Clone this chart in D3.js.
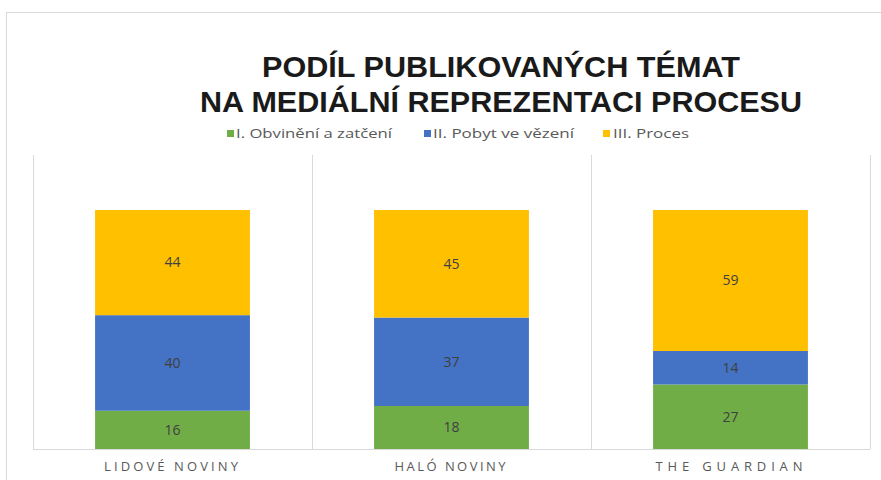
<!DOCTYPE html>
<html>
<head>
<meta charset="utf-8">
<script src="https://cdn.jsdelivr.net/npm/d3@7/dist/d3.min.js"></script>
<style>
html,body{margin:0;padding:0;background:#fff;}
svg{display:block;}
</style>
</head>
<body>
<svg id="chart" width="881" height="480"></svg>
<script>
const categories = ["LIDOVÉ NOVINY", "HALÓ NOVINY", "THE GUARDIAN"];
const seriesNames = ["I. Obvinění a zatčení", "II. Pobyt ve vězení", "III. Proces"];
const seriesColors = ["#70AD47", "#4472C4", "#FFC000"];
const obvineni = [16, 18, 27];
const pobyt = [40, 37, 14];
const proces = [44, 45, 59];
const titleLines = ["PODÍL PUBLIKOVANÝCH TÉMAT", "NA MEDIÁLNÍ REPREZENTACI PROCESU"];

const seriesValues = [obvineni, pobyt, proces];
const rows = categories.map((c, i) => {
  const r = {cat: c};
  seriesNames.forEach((s, j) => r[s] = seriesValues[j][i]);
  return r;
});

const svg = d3.select("#chart");
const font = "'Open Sans', sans-serif";

// outer chart border (partially visible)
svg.append("line").attr("x1", 6).attr("x2", 881).attr("y1", 12.5).attr("y2", 12.5)
  .attr("stroke", "#d9d9d9").attr("stroke-width", 1);
svg.append("line").attr("x1", 6.5).attr("x2", 6.5).attr("y1", 12).attr("y2", 480)
  .attr("stroke", "#d9d9d9").attr("stroke-width", 1);

const x = d3.scaleBand().domain(categories).range([33, 870]).paddingInner(0).paddingOuter(0);
const y = d3.scaleLinear().domain([0, 100]).range([449, 210]);
const barW = x.bandwidth() * 0.555;

// category separators
const edges = categories.map(c => x(c)).concat([x(categories[categories.length - 1]) + x.bandwidth()]);
svg.append("g").selectAll("line").data(edges).join("line")
  .attr("x1", d => Math.round(d) + 0.5).attr("x2", d => Math.round(d) + 0.5)
  .attr("y1", 155).attr("y2", 449)
  .attr("stroke", "#d9d9d9").attr("stroke-width", 1);

const stack = d3.stack().keys(seriesNames);
const stacked = stack(rows);

const g = svg.append("g");
stacked.forEach((layer, j) => {
  g.append("g").selectAll("rect").data(layer).join("rect")
    .attr("x", d => x(d.data.cat) + (x.bandwidth() - barW) / 2)
    .attr("width", barW)
    .attr("y", d => y(d[1]))
    .attr("height", d => y(d[0]) - y(d[1]))
    .attr("fill", seriesColors[j]);
  g.append("g").selectAll("text").data(layer).join("text")
    .attr("x", d => x(d.data.cat) + x.bandwidth() / 2)
    .attr("y", d => (y(d[0]) + y(d[1])) / 2)
    .attr("dy", "0.35em")
    .attr("text-anchor", "middle")
    .attr("font-family", font)
    .attr("font-size", 14)
    .attr("fill", "#404040")
    .text(d => d[1] - d[0]);
});

// baseline
svg.append("line").attr("x1", 33).attr("x2", 870).attr("y1", 449.5).attr("y2", 449.5)
  .attr("stroke", "#d9d9d9").attr("stroke-width", 1);

// x axis labels
const xAxis = d3.axisBottom(x).tickSize(0).tickPadding(0);
const ax = svg.append("g").attr("transform", "translate(0,462)").call(xAxis);
ax.select(".domain").remove();
const catWidths = [137, 114, 150];
ax.selectAll("text")
  .attr("font-family", font)
  .attr("font-size", 13)
  .attr("fill", "#595959")
  .attr("letter-spacing", "3px")
  .attr("textLength", (d, i) => catWidths[i])
  .attr("lengthAdjust", "spacing");

// title
const titleX = 501;
const titleY = [77, 112];
const titleW = [478, 602];
svg.append("g").selectAll("text").data(titleLines).join("text")
  .attr("x", titleX)
  .attr("y", (d, i) => titleY[i])
  .attr("text-anchor", "middle")
  .attr("font-family", "'Liberation Sans', Arial, sans-serif")
  .attr("font-weight", 700)
  .attr("font-size", 30)
  .attr("fill", "#1a1a1a")
  .attr("textLength", (d, i) => titleW[i])
  .attr("lengthAdjust", "spacingAndGlyphs")
  .text(d => d);

// legend
const legendSq = [227, 424, 603];
const legendTx = [236, 433, 613];
const legendW = [156, 141, 76];
const leg = svg.append("g");
seriesNames.forEach((s, j) => {
  leg.append("rect").attr("x", legendSq[j]).attr("y", 130).attr("width", 7).attr("height", 7)
    .attr("fill", seriesColors[j]);
  leg.append("text").attr("x", legendTx[j]).attr("y", 138)
    .attr("font-family", font).attr("font-size", 13).attr("fill", "#595959")
    .attr("textLength", legendW[j]).attr("lengthAdjust", "spacingAndGlyphs")
    .text(s);
});
</script>
</body>
</html>
